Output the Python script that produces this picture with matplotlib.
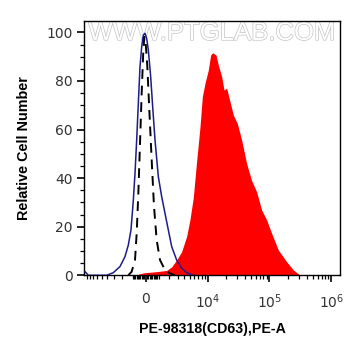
import numpy as np
import matplotlib
matplotlib.use("Agg")
import matplotlib.pyplot as plt
import matplotlib.patheffects as pe

plt.rcParams['font.family'] = ['Liberation Sans', 'DejaVu Sans']
plt.rcParams['mathtext.fontset'] = 'custom'
plt.rcParams['mathtext.rm'] = 'DejaVu Sans'

# ---- data (fluorescence intensity, relative cell number) ----
red_x = [-824, -178, 847, 1737, 2270, 2868, 3569, 4400, 5044, 5747, 6551, 7454,
         8161, 9029, 10241, 11191, 12059, 13675, 14928, 16928, 18463, 20402,
         23089, 26159, 30361, 35653, 42945, 51712, 62216, 74942, 90294, 108676,
         139380, 189880, 243208, 311686, 578932]
red_y = [0, 1, 1.5, 2, 3.5, 6.3, 9.7, 16, 23, 32, 47, 61, 73.5, 79, 84.5, 90.7,
         91.6, 90.7, 86.6, 81.8, 76.3, 77, 71.5, 66, 62.5, 55.7, 46, 39, 34.4,
         26.9, 22.8, 17.3, 10.4, 5.6, 2.2, 0.1, 0]

blue_x = [-9515, -8383, -4070, -3054, -2236, -1711, -1396, -1160, -961, -824,
          -690, -560, -431, -304, -178, -52, 73, 198, 375, 529, 712, 983, 1270,
          1576, 1904, 2270, 2868, 3569, 4400, 5747]
blue_y = [1.5, 0, 0, 1.1, 3.6, 7.7, 12.5, 18.7, 31, 42, 55.7, 70.8, 85.9, 94,
          98.9, 99.6, 97.5, 92.7, 81.8, 69.4, 55.7, 40.6, 32.4, 25.5, 18.7,
          11.8, 6.3, 2.9, 1.1, 0]

dash_x = [-1396, -1101, -824, -690, -560, -431, -304, -178, -103, -2, 122, 273,
          452, 633, 847, 1124, 1576, 2080, 2657]
dash_y = [0, 1.5, 6.3, 17.3, 33.7, 54.3, 74.9, 92.7, 98.2, 95.5, 85.9, 68,
          47.5, 28.3, 14.5, 6.3, 2.2, 0.8, 0]

major_ticks = [0, 1e4, 1e5, 1e6]
major_labels = ["0", r"$\mathregular{10^4}$", r"$\mathregular{10^5}$", r"$\mathregular{10^6}$"]
y_ticks = [0, 20, 40, 60, 80, 100]

C = 2020.0
def fwd(x):
    return np.arcsinh(np.asarray(x, dtype=float) / C) / np.log(10)
def inv(y):
    return C * np.sinh(np.asarray(y, dtype=float) * np.log(10))

fig = plt.figure(figsize=(3.61, 3.56), dpi=100)
ax = fig.add_axes([84/361, 1 - 275.3/356, (340-84)/361, (275.3-20.7)/356])
ax.set_xscale('function', functions=(fwd, inv))

ax.fill_between(red_x, red_y, 0, color='#ff0000', linewidth=0, zorder=2)
ax.plot(blue_x, blue_y, color='#1c1c8a', linewidth=1.1, zorder=3)
ax.plot(dash_x, dash_y, color='black', linewidth=1.4, dashes=(5, 3.5), zorder=4)

ax.set_xlim(-9900, 1.38e6)
ax.set_ylim(0, 104.8)

minor = []
for k in (100, 1000):
    for m in range(1, 10):
        minor += [m * k, -m * k]
for k in (1e4, 1e5):
    for m in range(2, 10):
        minor.append(m * k)
minor = sorted(v for v in minor if -9900 < v < 1.38e6 and v not in major_ticks)

ax.set_xticks(major_ticks)
ax.set_xticklabels(major_labels)
ax.set_xticks(minor, minor=True)
ax.set_yticks(y_ticks)
ax.set_yticks(np.arange(0, 105, 5), minor=True)

ax.tick_params(axis='both', which='major', direction='out', length=5, width=1.2,
               labelsize=10, colors='black', labelcolor='#333333')
for lab in ax.get_xticklabels() + ax.get_yticklabels():
    lab.set_family(['DejaVu Sans'])
ax.tick_params(axis='both', which='minor', direction='out', length=3, width=0.9)
ax.tick_params(axis='x', which='major', pad=7)
ax.tick_params(axis='y', which='major', pad=3)
for s in ax.spines.values():
    s.set_linewidth(1.0)

ax.set_ylabel('Relative Cell Number', fontsize=10.4, fontweight='bold', labelpad=11)
ax.set_xlabel('PE-98318(CD63),PE-A', fontsize=10.2, fontweight='bold', labelpad=8)

ax.text(0.5, 0.952, 'WWW.PTGLAB.COM', transform=ax.transAxes, ha='center', va='center',
        fontsize=18.5, color='white', zorder=1,
        path_effects=[pe.withStroke(linewidth=1.0, foreground='#c4c4c4')])

fig.savefig('out.png', dpi=100)
